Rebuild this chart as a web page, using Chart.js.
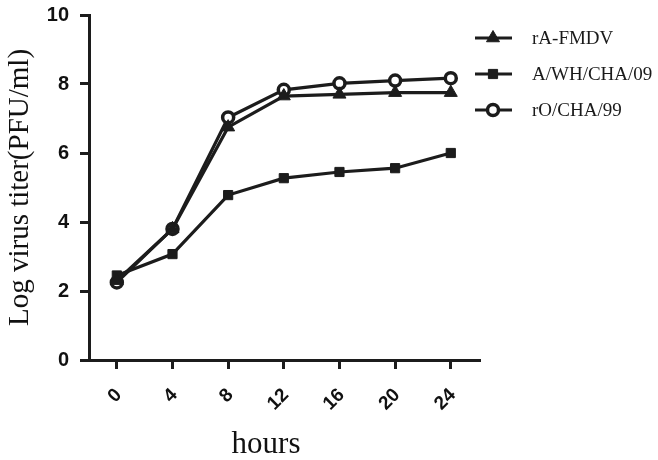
<!DOCTYPE html>
<html>
<head>
<meta charset="utf-8">
<script src="https://cdn.jsdelivr.net/npm/chart.js@4.4.1/dist/chart.umd.min.js"></script>
<style>
  html, body { margin: 0; padding: 0; background: #fff; }
  #wrap { width: 658px; height: 460px; }
</style>
</head>
<body>
<div id="wrap"><canvas id="chartLine"></canvas></div>
<script>
const hours = [0, 4, 8, 12, 16, 20, 24];
const xTicks = [0, 4, 8, 12, 16, 20, 24];
const yTicks = [0, 2, 4, 6, 8, 10];

const rA = [2.3, 3.8, 6.75, 7.65, 7.7, 7.75, 7.75];
const aWH = [2.45, 3.07, 4.78, 5.27, 5.45, 5.56, 6.0];
const rO = [2.25, 3.8, 7.03, 7.83, 8.02, 8.1, 8.17];

const names = ["rA-FMDV", "A/WH/CHA/09", "rO/CHA/99"];
const xTitle = "hours";
const ink = "#1c1c1c";

function toPoints(vals) {
  return hours.map((h, i) => ({ x: h, y: vals[i] }));
}

// legend drawn on the right with line + marker, like the original figure
// (also the x title, which sits a bit left of the axis centre)
const sideLegend = {
  id: "sideLegend",
  afterDraw(chart) {
    const ctx = chart.ctx;
    const rows = [38, 74, 110];
    chart.data.datasets.forEach((ds, i) => {
      const y = rows[i];
      ctx.save();
      ctx.strokeStyle = ink;
      ctx.lineWidth = 3;
      ctx.beginPath();
      ctx.moveTo(475, y);
      ctx.lineTo(512, y);
      ctx.stroke();
      ctx.fillStyle = ds.pointBackgroundColor;
      ctx.strokeStyle = ds.pointBorderColor;
      ctx.lineWidth = ds.pointBorderWidth;
      Chart.helpers.drawPoint(ctx, {
        pointStyle: ds.pointStyle,
        radius: ds.pointRadius,
        rotation: 0,
        borderWidth: ds.pointBorderWidth
      }, 493, y);
      ctx.fillStyle = "#1a1a1a";
      ctx.font = "19px 'Liberation Serif'";
      ctx.textBaseline = "middle";
      ctx.textAlign = "left";
      ctx.fillText(ds.label, 532, y + 1);
      ctx.restore();
    });
    ctx.save();
    ctx.fillStyle = "#111";
    ctx.font = "31px 'Liberation Serif'";
    ctx.textAlign = "center";
    ctx.textBaseline = "alphabetic";
    ctx.fillText(xTitle, 266, 453);
    ctx.restore();
  }
};

const dataLine = {
  datasets: [
    {
      label: names[0],
      data: toPoints(rA),
      borderColor: ink,
      borderWidth: 3.2,
      pointStyle: "triangle",
      pointRadius: 7.5,
      pointBackgroundColor: ink,
      pointBorderColor: ink,
      pointBorderWidth: 1,
    },
    {
      label: names[1],
      data: toPoints(aWH),
      borderColor: ink,
      borderWidth: 3.2,
      pointStyle: "rect",
      pointRadius: 6.5,
      pointBackgroundColor: ink,
      pointBorderColor: ink,
      pointBorderWidth: 1,
    },
    {
      label: names[2],
      data: toPoints(rO),
      borderColor: ink,
      borderWidth: 3.2,
      pointStyle: "circle",
      pointRadius: 5.5,
      pointBackgroundColor: "#ffffff",
      pointBorderColor: ink,
      pointBorderWidth: 3.5,
    },
  ],
};

const configLine = {
  type: "line",
  data: dataLine,
  plugins: [sideLegend],
  options: {
    responsive: true,
    maintainAspectRatio: false,
    animation: false,
    layout: { padding: { top: 15, right: 178, left: 0, bottom: 0 } },
    plugins: {
      legend: { display: false },
      tooltip: { enabled: false },
    },
    scales: {
      x: {
        type: "linear",
        min: -2,
        max: 26.1,
        afterBuildTicks(scale) {
          scale.ticks = xTicks.map(v => ({ value: v }));
        },
        afterFit(scale) { scale.height = 100; },
        border: { display: true, color: ink, width: 3 },
        grid: {
          display: true,
          drawOnChartArea: false,
          drawTicks: true,
          tickLength: 9,
          tickWidth: 3,
          color: ink,
        },
        ticks: {
          minRotation: 45,
          maxRotation: 45,
          labelOffset: 2,
          padding: 15,
          color: "#111",
          font: { family: "'Liberation Sans'", size: 19, weight: "bold" },
        },
        title: { display: false },
      },
      y: {
        min: 0,
        max: 10,
        afterBuildTicks(scale) {
          scale.ticks = yTicks.map(v => ({ value: v }));
        },
        afterFit(scale) {
          scale.width = 89;
          scale.paddingTop = 0;
          scale.paddingBottom = 0;
        },
        border: { display: true, color: ink, width: 3 },
        grid: {
          display: true,
          drawOnChartArea: false,
          drawTicks: true,
          tickLength: 9,
          tickWidth: 3,
          color: ink,
        },
        ticks: {
          padding: 11,
          color: "#111",
          font: { family: "'Liberation Sans'", size: 20, weight: "bold" },
        },
        title: {
          display: true,
          text: "Log virus titer(PFU/ml)",
          color: "#111",
          padding: { top: 3, bottom: 0 },
          font: { family: "'Liberation Serif'", size: 29 },
        },
      },
    },
  },
};

var chartLine = new Chart(document.getElementById("chartLine"), configLine);
</script>
</body>
</html>
